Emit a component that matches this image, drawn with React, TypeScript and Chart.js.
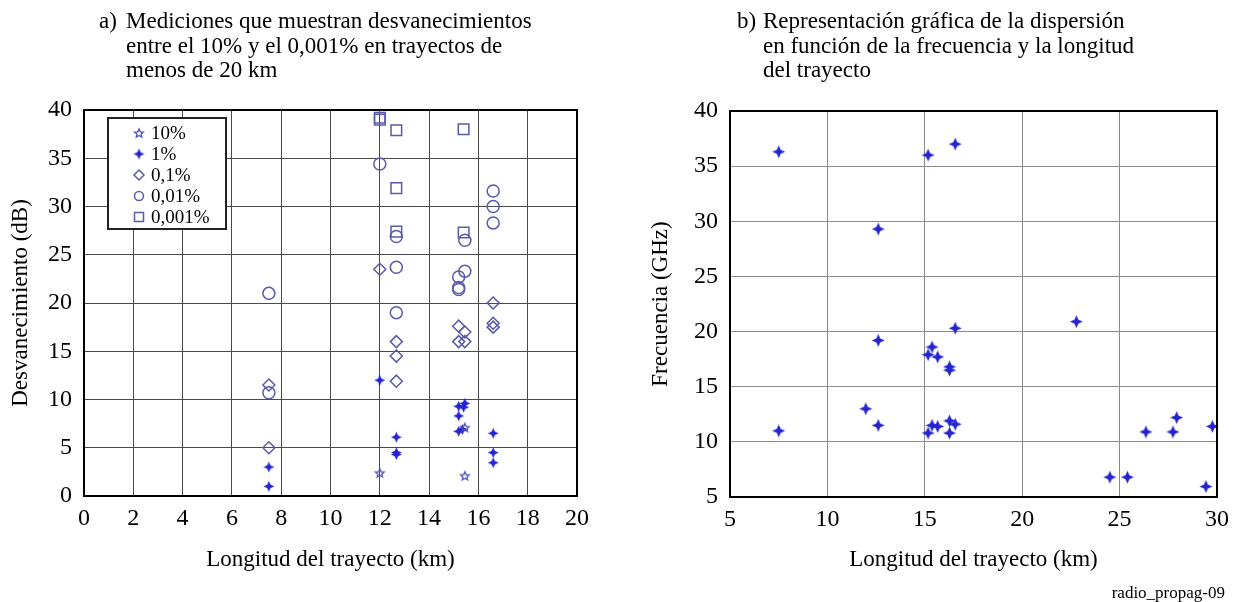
import React, { useEffect, useRef } from "react";
import { Chart, registerables } from "chart.js";

Chart.register(...registerables);

const FONT = "'Liberation Serif', 'Times New Roman', Times, serif";

// (a) Fade depth (dB) against path length (km), one series per time percentage
const legendLabels = ["10%", "1%", "0,1%", "0,01%", "0,001%"];

const len10 = [12.0, 15.45, 15.45];
const fade10 = [2.4, 2.1, 7.1];

const len1 = [7.5, 7.5, 12.0, 12.67, 12.67, 12.67, 15.2, 15.45, 15.4, 15.2, 15.2, 15.35, 16.6, 16.6, 16.6];
const fade1 = [3.0, 1.0, 12.0, 6.1, 4.5, 4.3, 9.3, 9.6, 9.2, 8.3, 6.7, 6.9, 6.5, 4.5, 3.45];

const len01 = [7.5, 7.5, 12.0, 12.67, 12.67, 12.67, 15.2, 15.45, 15.2, 15.45, 16.6, 16.6, 16.6];
const fade01 = [11.5, 5.0, 23.5, 16.0, 14.5, 11.9, 17.6, 17.0, 16.0, 16.0, 20.0, 17.9, 17.5];

const len001 = [7.5, 7.5, 12.0, 12.67, 12.67, 12.67, 15.45, 15.45, 15.2, 15.2, 15.2, 16.6, 16.6, 16.6];
const fade001 = [21.0, 10.7, 34.4, 26.9, 23.7, 19.0, 26.5, 23.3, 22.7, 21.6, 21.4, 31.6, 30.0, 28.3];

const len0001 = [12.0, 12.0, 12.67, 15.4, 12.67, 12.67, 15.4];
const fade0001 = [39.0, 39.2, 37.9, 38.0, 31.9, 27.4, 27.3];

const lengthTicksA = [0, 2, 4, 6, 8, 10, 12, 14, 16, 18, 20];
const fadeTicks = [0, 5, 10, 15, 20, 25, 30, 35, 40];

// (b) Frequency (GHz) against path length (km)
const pathKm = [
  7.5, 15.17, 16.56, 12.61, 16.56, 22.78, 12.61, 15.37, 15.17, 15.66, 16.27, 16.27, 11.97, 7.5,
  12.61, 15.17, 15.37, 15.66, 16.27, 16.56, 16.27, 24.5, 25.4, 26.35, 27.74, 27.93, 29.76, 29.43,
];
const freqGHz = [
  36.3, 36.0, 37.0, 29.3, 20.3, 20.9, 19.2, 18.6, 17.9, 17.7, 16.8, 16.5, 13.0, 11.0,
  11.5, 10.8, 11.5, 11.4, 11.9, 11.6, 10.8, 6.8, 6.8, 10.9, 10.9, 12.2, 11.4, 5.95,
];
const lengthTicksB = [5, 10, 15, 20, 25, 30];
const freqTicks = [5, 10, 15, 20, 25, 30, 35, 40];

const zip = (xs: number[], ys: number[]) => xs.map((x, i) => ({ x, y: ys[i] }));

// Four-pointed filled star used for the 1 % series and for panel (b)
function makeSparkle(R: number, color: string): HTMLCanvasElement {
  const s = Math.ceil(R * 2 + 4);
  const c = document.createElement("canvas");
  c.width = s;
  c.height = s;
  const g = c.getContext("2d")!;
  const m = s / 2;
  const r = R * 0.3;
  g.fillStyle = color;
  g.beginPath();
  g.moveTo(m, m - R);
  g.lineTo(m + r, m - r);
  g.lineTo(m + R, m);
  g.lineTo(m + r, m + r);
  g.lineTo(m, m + R);
  g.lineTo(m - r, m + r);
  g.lineTo(m - R, m);
  g.lineTo(m - r, m - r);
  g.closePath();
  g.fill();
  return c;
}

// Small five-pointed outline star for the 10 % series
function makeStar(R: number, color: string): HTMLCanvasElement {
  const s = Math.ceil(R * 2 + 4);
  const c = document.createElement("canvas");
  c.width = s;
  c.height = s;
  const g = c.getContext("2d")!;
  const m = s / 2;
  g.strokeStyle = color;
  g.lineWidth = 1.3;
  g.beginPath();
  for (let i = 0; i < 10; i++) {
    const rad = i % 2 === 0 ? R : R * 0.45;
    const a = -Math.PI / 2 + (i * Math.PI) / 5;
    const px = m + rad * Math.cos(a);
    const py = m + 0.5 + rad * Math.sin(a);
    if (i === 0) g.moveTo(px, py);
    else g.lineTo(px, py);
  }
  g.closePath();
  g.stroke();
  return c;
}

const framePlugin = {
  id: "frame",
  afterDatasetsDraw(chart: any) {
    const { ctx, chartArea: a } = chart;
    ctx.save();
    ctx.strokeStyle = "#000";
    ctx.lineWidth = 2;
    ctx.strokeRect(a.left, a.top, a.right - a.left, a.bottom - a.top);
    ctx.restore();
  },
};

// Boxed key drawn in the upper-left corner of panel (a)
const keyPlugin = {
  id: "keyBox",
  afterDraw(chart: any) {
    const ctx = chart.ctx;
    const x0 = 108, y0 = 118, w = 118, h = 111;
    ctx.save();
    ctx.fillStyle = "#fff";
    ctx.fillRect(x0, y0, w, h);
    ctx.strokeStyle = "#222";
    ctx.lineWidth = 2;
    ctx.strokeRect(x0, y0, w, h);
    ctx.font = `19px ${FONT}`;
    ctx.textBaseline = "middle";
    ctx.fillStyle = "#000";
    chart.data.datasets.forEach((ds: any, i: number) => {
      const cy = y0 + 15 + i * 21;
      const cx = x0 + 31;
      const st = ds.pointStyle;
      if (st instanceof HTMLCanvasElement) {
        ctx.drawImage(st, cx - st.width / 2, cy - st.height / 2);
      } else {
        ctx.strokeStyle = ds.pointBorderColor;
        ctx.lineWidth = ds.pointBorderWidth;
        ctx.beginPath();
        if (st === "circle") {
          ctx.arc(cx, cy, 4.5, 0, Math.PI * 2);
        } else if (st === "rect") {
          ctx.rect(cx - 4.5, cy - 4.5, 9, 9);
        } else {
          ctx.moveTo(cx, cy - 5);
          ctx.lineTo(cx + 5, cy);
          ctx.lineTo(cx, cy + 5);
          ctx.lineTo(cx - 5, cy);
          ctx.closePath();
        }
        ctx.stroke();
      }
      ctx.fillStyle = "#000";
      ctx.fillText(ds.label, x0 + 43, cy + 1);
    });
    ctx.restore();
  },
};

function axis(
  min: number,
  max: number,
  values: number[],
  title: string,
  horizontal: boolean,
  size: number,
  titlePad: number,
  gridColor: string
) {
  return {
    type: "linear",
    min,
    max,
    afterBuildTicks: (s: any) => {
      s.ticks = values.map((v) => ({ value: v }));
    },
    afterFit: (s: any) => {
      if (horizontal) s.height = size;
      else s.width = size;
    },
    ticks: {
      color: "#000",
      padding: horizontal ? 8 : 12,
      maxRotation: 0,
      autoSkip: false,
      font: { family: FONT, size: 24 },
    },
    grid: { color: gridColor, lineWidth: 1, drawTicks: false },
    border: { display: true, color: "#000", width: 2 },
    title: {
      display: true,
      text: title,
      color: "#000",
      font: { family: FONT, size: 23 },
      padding: horizontal ? { top: 0, bottom: titlePad } : { top: titlePad, bottom: 0 },
    },
  };
}

export default function App() {
  const leftRef = useRef<HTMLCanvasElement>(null);
  const rightRef = useRef<HTMLCanvasElement>(null);

  useEffect(() => {
    const outline = "#5a5aaa";
    const sparkleA = makeSparkle(5.5, "#2323d2");
    const sparkleB = makeSparkle(6.5, "#2525cf");
    const star = makeStar(4.6, "#4f4fb4");

    const seriesA = [
      { label: legendLabels[0], data: zip(len10, fade10), pointStyle: star, pointBorderColor: "#4f4fb4", pointBorderWidth: 1.3, pointRadius: 5 },
      { label: legendLabels[1], data: zip(len1, fade1), pointStyle: sparkleA, pointBorderColor: "#2323d2", pointBorderWidth: 1, pointRadius: 6 },
      { label: legendLabels[2], data: zip(len01, fade01), pointStyle: "rectRot", pointBorderColor: outline, pointBorderWidth: 1.5, pointRadius: 6 },
      { label: legendLabels[3], data: zip(len001, fade001), pointStyle: "circle", pointBorderColor: outline, pointBorderWidth: 1.5, pointRadius: 6 },
      { label: legendLabels[4], data: zip(len0001, fade0001), pointStyle: "rect", pointBorderColor: outline, pointBorderWidth: 1.5, pointRadius: 7.5 },
    ].map((d) => ({ ...d, pointBackgroundColor: "rgba(0,0,0,0)", showLine: false, clip: false }));

    const left = new Chart(leftRef.current!, {
      type: "scatter",
      data: { datasets: seriesA as any },
      options: {
        responsive: false,
        animation: false,
        layout: { padding: { top: 110, right: 43, bottom: 0, left: 0 } },
        plugins: { legend: { display: false }, tooltip: { enabled: false } },
        scales: {
          x: axis(0, 20, lengthTicksA, "Longitud del trayecto (km)", true, 106, 28, "#4a4a4a") as any,
          y: axis(0, 40, fadeTicks, "Desvanecimiento (dB)", false, 84, 7, "#4a4a4a") as any,
        },
      },
      plugins: [framePlugin, keyPlugin],
    });

    const right = new Chart(rightRef.current!, {
      type: "scatter",
      data: {
        datasets: [
          {
            label: "Frecuencia",
            data: zip(pathKm, freqGHz),
            pointStyle: sparkleB as any,
            pointRadius: 6,
            showLine: false,
            clip: false as any,
          },
        ],
      },
      options: {
        responsive: false,
        animation: false,
        layout: { padding: { top: 111, right: 17, bottom: 0, left: 0 } },
        plugins: { legend: { display: false }, tooltip: { enabled: false } },
        scales: {
          x: axis(5, 30, lengthTicksB, "Longitud del trayecto (km)", true, 105, 28, "#8a8a8a") as any,
          y: axis(5, 40, freqTicks, "Frecuencia (GHz)", false, 110, 27, "#8a8a8a") as any,
        },
      },
      plugins: [framePlugin],
    });

    return () => {
      left.destroy();
      right.destroy();
    };
  }, []);

  const titleStyle: React.CSSProperties = {
    position: "absolute",
    top: 9,
    display: "flex",
    fontFamily: FONT,
    fontSize: 23,
    lineHeight: "24.5px",
    color: "#000",
    whiteSpace: "nowrap",
  };

  return (
    <div style={{ position: "absolute", left: 0, top: 0, width: 1237, height: 602, background: "#fff", overflow: "hidden" }}>
      <canvas ref={leftRef} width={620} height={602} style={{ position: "absolute", left: 0, top: 0 }} />
      <canvas ref={rightRef} width={617} height={602} style={{ position: "absolute", left: 620, top: 0 }} />
      <div style={{ ...titleStyle, left: 99 }}>
        <span style={{ width: 27 }}>a)</span>
        <div>
          Mediciones que muestran desvanecimientos
          <br />
          entre el 10% y el 0,001% en trayectos de
          <br />
          menos de 20 km
        </div>
      </div>
      <div style={{ ...titleStyle, left: 737 }}>
        <span style={{ width: 26 }}>b)</span>
        <div>
          Representación gráfica de la dispersión
          <br />
          en función de la frecuencia y la longitud
          <br />
          del trayecto
        </div>
      </div>
      <div
        style={{
          position: "absolute",
          right: 12,
          top: 584,
          fontFamily: FONT,
          fontSize: 17,
          lineHeight: "18px",
          color: "#000",
        }}
      >
        radio_propag-09
      </div>
    </div>
  );
}
